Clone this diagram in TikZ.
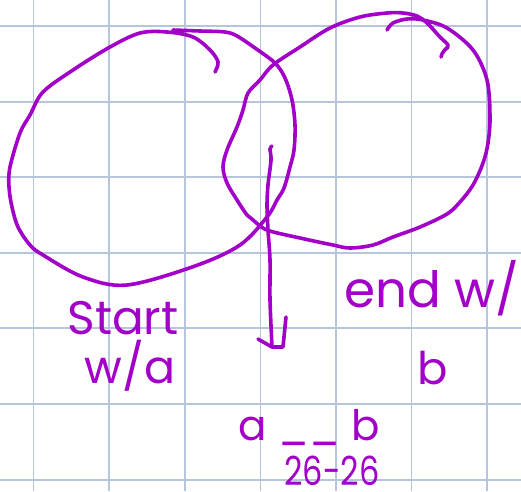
\documentclass[tikz,border=0pt]{standalone}
\usepackage{fontspec}
\setmainfont{Poppins}
\definecolor{ink}{RGB}{162,0,200}
\definecolor{gridc}{RGB}{182,197,220}
\begin{document}
\begin{tikzpicture}[x=1pt,y=-1pt,
  pen/.style={draw=ink,line width=3.6pt,line cap=round,line join=round},
  gridline/.style={draw=gridc,line width=1.3pt},
  hand/.style={text=ink,inner sep=0pt,anchor=base}]
\useasboundingbox[fill=white] (0,0) rectangle (521,491);
% grid
\foreach \gx in {33.5,109,185,260.5,336,411.5,487}
  \draw[gridline] (\gx,0) -- (\gx,491);
\foreach \gy in {26,102,177,253,328,404,480}
  \draw[gridline] (0,\gy) -- (521,\gy);
% left circle
\draw[pen] plot[smooth,tension=0.55] coordinates {
 (173,30) (200,31) (225,32) (237,36) (255,48) (275,63) (285,78) (292,100)
 (295,125) (294,150) (290,167) (284,188) (277,200) (267,217) (240,245)
 (195,266) (127,285) (83,277) (43,255) (30,245) (18,227) (12,207)
 (9,187) (10,167) (20,133) (30,115) (43,92) (73,70) (110,47) (140,33)
 (167,32) (193,37) (210,50) (218,62) (215,72)};
% right circle
\draw[pen] plot[smooth,tension=0.55] coordinates {
 (387,30) (393,23) (407,19) (423,20) (447,28) (473,50) (487,80) (490,117)
 (488,143) (483,163) (473,185) (460,202) (447,214) (420,227) (393,237)
 (373,245) (350,248) (333,245) (300,238) (267,230) (253,220) (247,215)
 (237,200) (227,183) (223,167) (227,150) (237,127) (243,110) (248,93)
 (260,80) (273,65) (300,47) (330,28) (360,17) (387,13) (403,13) (417,16)
 (427,23) (440,37) (448,45) (446,49)};
\draw[pen] (448,47) .. controls (444,50) and (442,53) .. (441,57);
% arrow
\coordinate (arrowtop) at (272,146);
\coordinate (arrowtip) at (272,347);
\draw[pen] plot[smooth,tension=0.5] coordinates {
 (272,146) (270,149) (271,160) (268,185) (267,205) (268,230) (270,260)
 (270,300) (272,347)};
\draw[pen] (258,339) -- (arrowtip) -- (283,347) -- (286,317);
% labels
\node[hand,font=\fontsize{47}{49}\selectfont] (start) at (123,334) {Start};
\node[hand,font=\fontsize{46}{48}\selectfont] (wa) at (130,383) {w/a};
\node[hand,font=\fontsize{50}{52}\selectfont] (endw) at (432,307) {end w/};
\node[hand,font=\fontsize{45}{47}\selectfont] (b) at (433,384) {b};
\node[hand,font=\fontsize{42}{44}\selectfont] (ab) at (309,440) {a \_\_ b};
\node[hand,font=\fontsize{40}{42}\selectfont] (nums) at (332,485) {\scalebox{0.8}[1]{26-26}};
\end{tikzpicture}
\end{document}
